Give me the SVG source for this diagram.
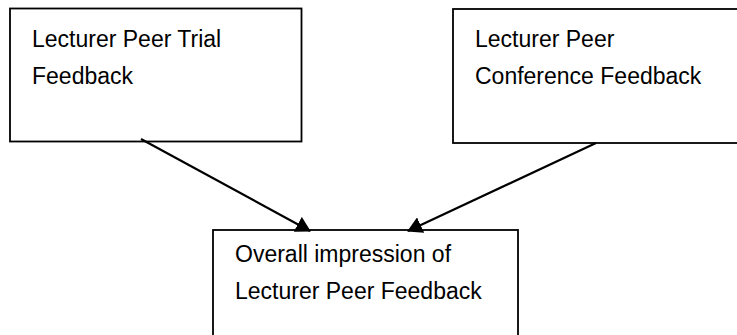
<svg xmlns="http://www.w3.org/2000/svg" width="737" height="335" viewBox="0 0 737 335">
  <style>
    .box { fill: #ffffff; stroke: #000000; stroke-width: 1.8; }
    .label { font-family: "Liberation Sans", Arial, sans-serif; font-size: 23px; fill: #000000; }
    .link { stroke: #000000; stroke-width: 2.2; fill: none; marker-end: url(#arrow); }
  </style>
  <defs>
    <marker id="arrow" viewBox="0 0 15 17" refX="14" refY="8.5" markerWidth="6.8" markerHeight="7.7" markerUnits="strokeWidth" orient="auto">
      <path d="M0,0 L15,8.5 L0,17 Z" fill="#000000"/>
    </marker>
  </defs>
  <rect width="737" height="335" fill="#ffffff"/>

  <g id="trial-feedback">
    <rect class="box" x="10" y="8.5" width="291.5" height="133"/>
    <text class="label" x="32" y="46.5">Lecturer Peer Trial</text>
    <text class="label" x="32" y="83.5">Feedback</text>
  </g>

  <g id="conference-feedback">
    <rect class="box" x="453" y="9" width="300" height="134"/>
    <text class="label" x="475" y="46.5">Lecturer Peer</text>
    <text class="label" x="475" y="83.5">Conference Feedback</text>
  </g>

  <g id="overall-impression">
    <rect class="box" x="213" y="230" width="305" height="120"/>
    <text class="label" x="235" y="262">Overall impression of</text>
    <text class="label" x="235" y="298.5">Lecturer Peer Feedback</text>
  </g>

  <g id="connectors">
    <line class="link" x1="141" y1="139" x2="310" y2="231"/>
    <line class="link" x1="596" y1="143" x2="408" y2="231"/>
  </g>
</svg>
